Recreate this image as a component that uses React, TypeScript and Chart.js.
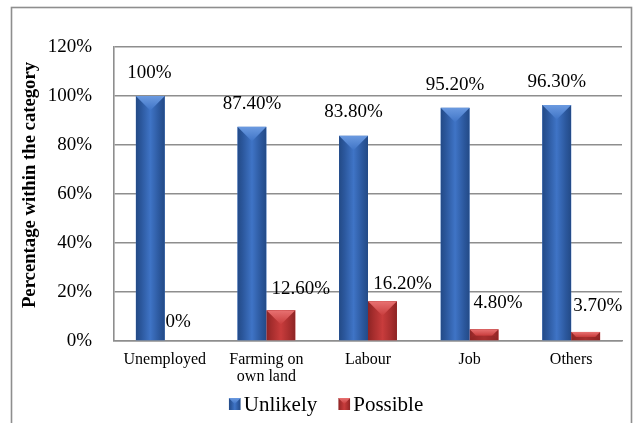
import React, { useEffect, useRef } from 'react';
import { Chart, registerables } from 'chart.js';

Chart.register(...registerables);

// ---- data ----
const categories: (string | string[])[] = ['Unemployed', ['Farming on', 'own land'], 'Labour', 'Job', 'Others'];
const seriesNames = ['Unlikely', 'Possible'];
const unlikely = [100, 87.4, 83.8, 95.2, 96.3];
const possible = [0, 12.6, 16.2, 4.8, 3.7];
const yTicks = [0, 20, 40, 60, 80, 100, 120];
const axisTitle = 'Percentage within the category';

// ---- styling ----
const SERIF = '"Liberation Serif", "Times New Roman", Times, serif';
const GRID = '#8e8e8e';

type Palette = { edge: string; mid: string; light: string; dark: string };
const palettes: Palette[] = [
  { edge: '#2b579c', mid: '#3f74c6', light: '#6b9ae0', dark: '#234a86' },
  { edge: '#a52d2d', mid: '#c83c3c', light: '#e87272', dark: '#8c2424' },
];

// value-label placement relative to each bar's top centre
const labelShift = [
  [{ dx: -1, dy: -23 }, { dx: 0, dy: -23 }, { dx: 0, dy: -24 }, { dx: 0, dy: -23 }, { dx: 0, dy: -23 }],
  [{ dx: -1, dy: -19 }, { dx: 20, dy: -21 }, { dx: 20, dy: -17 }, { dx: 14, dy: -26 }, { dx: 12, dy: -26 }],
];

const fmtPct = (v: number) => (Number.isInteger(v) ? `${v}%` : `${v.toFixed(2)}%`);

function paintBar(ctx: CanvasRenderingContext2D, left: number, top: number, right: number, bottom: number, p: Palette) {
  const w = right - left;
  const h = bottom - top;
  if (h < 0.5 || w <= 0) return;
  ctx.save();
  ctx.beginPath();
  ctx.rect(left, top, w, h);
  ctx.clip();

  // body: darker edges, lighter middle
  const body = ctx.createLinearGradient(left, 0, right, 0);
  body.addColorStop(0, p.dark);
  body.addColorStop(0.18, p.edge);
  body.addColorStop(0.5, p.mid);
  body.addColorStop(0.82, p.edge);
  body.addColorStop(1, p.dark);
  ctx.fillStyle = body;
  ctx.fillRect(left, top, w, h);

  // bevelled top face
  const d = Math.min(w / 2, h * 0.6);
  const face = ctx.createLinearGradient(0, top, 0, top + d);
  face.addColorStop(0, p.light);
  face.addColorStop(1, p.mid);
  ctx.fillStyle = face;
  ctx.beginPath();
  ctx.moveTo(left, top);
  ctx.lineTo(right, top);
  ctx.lineTo(right - d, top + d);
  ctx.lineTo(left + d, top + d);
  ctx.closePath();
  ctx.fill();

  // short bars also show a shaded bottom face
  if (h < w) {
    const b = Math.min(w / 2, h * 0.4);
    ctx.fillStyle = p.dark;
    ctx.globalAlpha = 0.55;
    ctx.beginPath();
    ctx.moveTo(left, bottom);
    ctx.lineTo(right, bottom);
    ctx.lineTo(right - b, bottom - b);
    ctx.lineTo(left + b, bottom - b);
    ctx.closePath();
    ctx.fill();
    ctx.globalAlpha = 1;
  }
  ctx.restore();
}

const decorPlugin = {
  id: 'decor',
  beforeDraw(chart: Chart) {
    const { ctx, width, height } = chart;
    ctx.save();
    ctx.fillStyle = '#ffffff';
    ctx.fillRect(0, 0, width, height);
    ctx.strokeStyle = GRID;
    ctx.lineWidth = 1.6;
    ctx.strokeRect(11.5, 7.5, 620, height + 20);
    ctx.restore();
  },
  afterDatasetsDraw(chart: Chart) {
    const { ctx } = chart;
    chart.data.datasets.forEach((_, i) => {
      const meta = chart.getDatasetMeta(i);
      meta.data.forEach((el: any) => {
        const { x, y, base, width } = el.getProps(['x', 'y', 'base', 'width'], true);
        paintBar(ctx, x - width / 2, Math.min(y, base), x + width / 2, Math.max(y, base), palettes[i]);
      });
    });
  },
  afterDraw(chart: Chart) {
    const { ctx } = chart;
    ctx.save();

    // value labels
    ctx.fillStyle = '#000';
    ctx.font = `19px ${SERIF}`;
    ctx.textAlign = 'center';
    ctx.textBaseline = 'middle';
    chart.data.datasets.forEach((ds, i) => {
      const meta = chart.getDatasetMeta(i);
      meta.data.forEach((el: any, j: number) => {
        const { x, y } = el.getProps(['x', 'y'], true);
        const s = labelShift[i][j];
        ctx.fillText(fmtPct(ds.data[j] as number), x + s.dx, y + s.dy);
      });
    });

    // vertical axis title
    ctx.save();
    ctx.translate(30, 185);
    ctx.rotate(-Math.PI / 2);
    ctx.font = `bold 18.7px ${SERIF}`;
    ctx.fillText(axisTitle, 0, 0);
    ctx.restore();

    // legend
    ctx.font = `21px ${SERIF}`;
    ctx.textAlign = 'left';
    const box = 12;
    const gapBox = 3;
    const gapItem = 21;
    const widths = seriesNames.map((n) => ctx.measureText(n).width);
    const total = widths.reduce((a, w) => a + box + gapBox + w, 0) + gapItem * (seriesNames.length - 1);
    let lx = 326 - total / 2;
    const ly = 404;
    seriesNames.forEach((n, i) => {
      paintBar(ctx, lx, ly - box / 2, lx + box, ly + box / 2, palettes[i]);
      ctx.fillStyle = '#000';
      ctx.font = `21px ${SERIF}`;
      ctx.fillText(n, lx + box + gapBox, ly + 1);
      lx += box + gapBox + widths[i] + gapItem;
    });

    ctx.restore();
  },
};

export default function App() {
  const canvasRef = useRef<HTMLCanvasElement | null>(null);

  useEffect(() => {
    const canvas = canvasRef.current;
    if (!canvas) return;
    const chart = new Chart(canvas, {
      type: 'bar',
      data: {
        labels: categories,
        datasets: [
          { label: seriesNames[0], data: unlikely, backgroundColor: palettes[0].mid, borderWidth: 0 },
          { label: seriesNames[1], data: possible, backgroundColor: palettes[1].mid, borderWidth: 0 },
        ],
      },
      options: {
        responsive: false,
        animation: false,
        devicePixelRatio: 1,
        categoryPercentage: 0.57,
        barPercentage: 1,
        layout: { padding: { top: 47, left: 11, right: 11, bottom: 0 } },
        plugins: {
          legend: { display: false },
          tooltip: { enabled: false },
        },
        scales: {
          x: {
            grid: { display: false, drawTicks: false },
            border: { display: true, color: GRID, width: 1.6 },
            ticks: {
              color: '#000',
              font: { family: SERIF, size: 16, lineHeight: 1.08 },
              padding: 10,
              maxRotation: 0,
              autoSkip: false,
            },
            afterFit: (s: any) => {
              s.height = 82;
            },
          },
          y: {
            min: yTicks[0],
            max: yTicks[yTicks.length - 1],
            grid: { color: GRID, lineWidth: 1.6, drawTicks: false },
            border: { display: true, color: GRID, width: 1.6 },
            ticks: {
              stepSize: yTicks[1] - yTicks[0],
              color: '#000',
              font: { family: SERIF, size: 19 },
              padding: 22,
              callback: (v: any) => `${v}%`,
            },
            afterFit: (s: any) => {
              s.width = 103;
            },
          },
        },
      },
      plugins: [decorPlugin],
    });
    return () => chart.destroy();
  }, []);

  return (
    <div style={{ position: 'absolute', left: 0, top: 0, width: 633, height: 423, background: '#fff' }}>
      <canvas ref={canvasRef} width={633} height={423} style={{ display: 'block' }} />
    </div>
  );
}
